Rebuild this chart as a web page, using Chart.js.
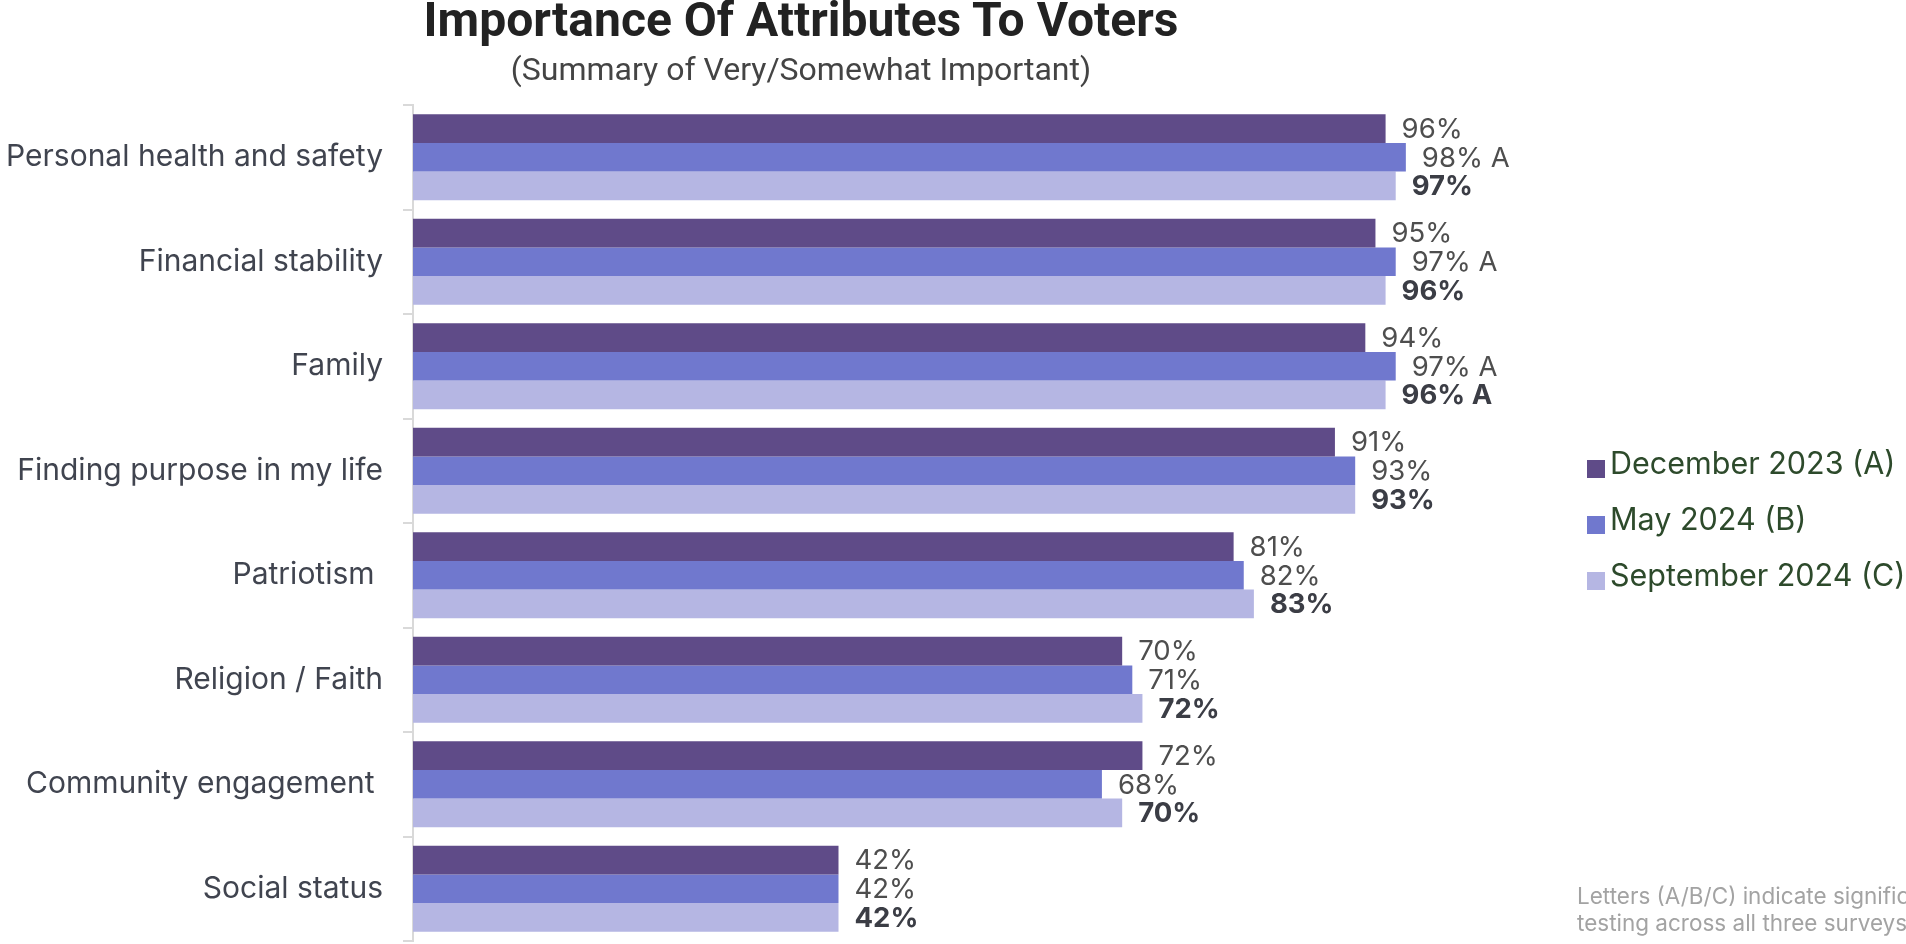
<!DOCTYPE html>
<html>
<head>
<meta charset="utf-8">
<title>Importance Of Attributes To Voters</title>
<script src="https://cdn.jsdelivr.net/npm/chart.js@4.4.1/dist/chart.umd.min.js"></script>
<style>
    html, body { margin: 0; padding: 0; background: #fff; overflow: hidden; }
    #marco { position: relative; width: 1906px; height: 944px; overflow: hidden; }
    #grafico { position: absolute; left: 0; top: 0; }
    .titulo {
        position: absolute; left: 0; width: 1602px; top: -9px; text-align: center;
        font: 700 48px Roboto, sans-serif; color: #222; white-space: nowrap;
    }
    .subtitulo {
        position: absolute; left: 0; width: 1602px; top: 50px; text-align: center;
        font: 400 32px Roboto, sans-serif; color: #444; white-space: nowrap;
    }
    .nota {
        position: absolute; left: 1577px; top: 882px; white-space: nowrap;
        font: 400 22.5px Inter, sans-serif; line-height: 27px; color: #a3a3a3;
    }
    #leyenda {
        position: absolute; left: 1587px; top: 435px; white-space: nowrap;
        font: 400 30.5px Inter, sans-serif; line-height: 56px; color: #2d4a2b;
    }
    #leyenda .caja {
        display: inline-block; width: 18px; height: 18px;
        vertical-align: -4px; margin-right: 5px;
    }
</style>
</head>
<body>
<div id="marco">
    <canvas id="grafico" width="1906" height="944"></canvas>
    <div class="titulo">Importance Of Attributes To Voters</div>
    <div class="subtitulo">(Summary of Very/Somewhat Important)</div>
    <div id="leyenda"></div>
    <div class="nota">Letters (A/B/C) indicate significance<br>testing across all three surveys</div>
</div>
<script>
// Datos
const categorias = [
    'Personal health and safety',
    'Financial stability',
    'Family',
    'Finding purpose in my life',
    'Patriotism ',
    'Religion / Faith',
    'Community engagement ',
    'Social status'
];
const series = ['December 2023 (A)', 'May 2024 (B)', 'September 2024 (C)'];
const dic2023 = [96, 95, 94, 91, 81, 70, 72, 42];
const may2024 = [98, 97, 97, 93, 82, 71, 68, 42];
const sep2024 = [97, 96, 96, 93, 83, 72, 70, 42];
// letras de significancia por serie
const letrasDic = ['', '', '', '', '', '', '', ''];
const letrasMay = ['A', 'A', 'A', '', '', '', '', ''];
const letrasSep = ['', '', 'A', '', '', '', '', ''];

const colores = ['#5f4b88', '#7078ce', '#b5b6e3'];
const letras = [letrasDic, letrasMay, letrasSep];
const negrita = [false, false, true];

// Etiquetas al final de cada barra
const etiquetasBarras = {
    id: 'etiquetasBarras',
    afterDatasetsDraw(chart) {
        const ctx = chart.ctx;
        chart.data.datasets.forEach((ds, i) => {
            const meta = chart.getDatasetMeta(i);
            meta.data.forEach((barra, j) => {
                const letra = letras[i][j];
                const texto = ds.data[j] + '%' + (letra ? ' ' + letra : '');
                ctx.save();
                ctx.font = (negrita[i] ? '700 ' : '400 ') + '27.5px Inter, sans-serif';
                ctx.fillStyle = negrita[i] ? '#3b3d45' : '#4e4e4e';
                ctx.textAlign = 'left';
                ctx.textBaseline = 'middle';
                ctx.fillText(texto, barra.x + 16, barra.y + 1);
                ctx.restore();
            });
        });
    }
};

// Leyenda en HTML a partir de las series del gráfico
const leyendaHtml = {
    id: 'leyendaHtml',
    afterUpdate(chart) {
        const cont = document.getElementById('leyenda');
        cont.innerHTML = '';
        const items = chart.options.plugins.legend.labels.generateLabels(chart);
        items.forEach(item => {
            const fila = document.createElement('div');
            const caja = document.createElement('span');
            caja.className = 'caja';
            caja.style.background = item.fillStyle;
            fila.appendChild(caja);
            fila.appendChild(document.createTextNode(item.text));
            cont.appendChild(fila);
        });
    }
};

const crearSerie = (i, valores) => ({
    label: series[i],
    data: valores,
    backgroundColor: colores[i],
    borderWidth: 0,
    categoryPercentage: 0.825,
    barPercentage: 1
});

new Chart(document.getElementById('grafico').getContext('2d'), {
    type: 'bar',
    data: {
        labels: categorias,
        datasets: [crearSerie(0, dic2023), crearSerie(1, may2024), crearSerie(2, sep2024)]
    },
    options: {
        indexAxis: 'y',
        responsive: false,
        animation: false,
        devicePixelRatio: 1,
        layout: { padding: { top: 105, bottom: 3, left: 0, right: 334 } },
        scales: {
            x: { display: false, min: 0, max: 114.4 },
            y: {
                afterFit: (escala) => {
                    escala.width = 413;
                    escala.paddingTop = 0;
                    escala.paddingBottom = 0;
                },
                border: { display: true, color: '#d9d9d9', width: 2 },
                grid: { display: true, drawOnChartArea: false, offset: true, tickLength: 10, color: '#d9d9d9', lineWidth: 2 },
                ticks: { color: '#40444f', padding: 20, font: { family: 'Inter', size: 30 } }
            }
        },
        plugins: {
            legend: { display: false },
            tooltip: { enabled: false }
        }
    },
    plugins: [etiquetasBarras, leyendaHtml]
});
</script>
</body>
</html>
